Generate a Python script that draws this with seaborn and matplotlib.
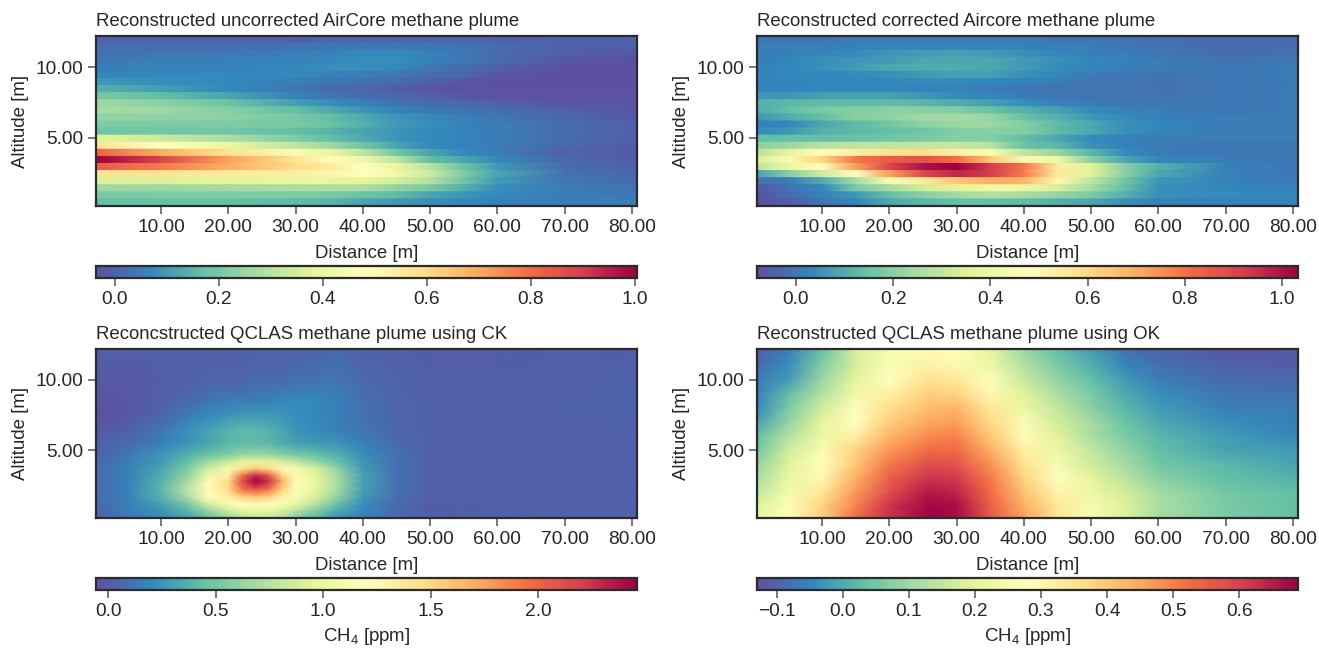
import matplotlib
matplotlib.use('Agg')
import matplotlib.pyplot as plt
import numpy as np
import seaborn as sns
from matplotlib.cm import ScalarMappable
from matplotlib.colors import Normalize
from matplotlib.ticker import FormatStrFormatter, FuncFormatter

# distance / altitude [m]
dist_min, dist_max = 0.34, 80.75
alt_min, alt_max = 0.2, 12.2

# uncorrected AirCore, 24 altitude layers top to bottom
dist_uncorr = [0.34, 10, 20, 30, 35, 40, 45, 50, 55, 60, 70, 80.75]
ch4_uncorr = [
    [0, 0, 0, 0, .01, .01, .01, .01, .01, 0, 0, 0],
    [.02, .02, .02, .03, .04, .04, .04, .04, .03, .02, 0, 0],
    [.03, .04, .04, .05, .06, .07, .07, .06, .04, .02, 0, -.02],
    [.04, .05, .06, .06, .07, .08, .08, .06, .04, .02, -.02, -.03],
    [.05, .06, .06, .07, .08, .08, .07, .04, .02, 0, -.03, -.04],
    [.07, .07, .07, .07, .06, .05, .04, .02, .01, -.02, -.04, -.04],
    [.10, .08, .07, .05, .04, .03, .02, 0, -.02, -.03, -.04, -.03],
    [.14, .11, .07, .04, .02, .01, -.01, -.02, -.03, -.03, -.03, -.03],
    [.20, .17, .12, .06, .04, .02, .01, 0, -.02, -.03, -.03, -.03],
    [.26, .23, .18, .11, .08, .06, .03, .02, .01, 0, -.02, -.02],
    [.27, .26, .22, .17, .13, .09, .06, .04, .03, .02, 0, -.02],
    [.24, .24, .23, .20, .17, .13, .09, .07, .05, .04, .01, -.02],
    [.21, .21, .21, .20, .18, .14, .10, .08, .06, .05, .02, 0],
    [.19, .19, .19, .17, .15, .12, .09, .07, .06, .05, .02, 0],
    [.38, .33, .28, .21, .17, .13, .09, .07, .06, .05, .02, 0],
    [.57, .48, .40, .31, .26, .19, .12, .07, .06, .05, .01, -.01],
    [.82, .69, .57, .45, .40, .31, .19, .12, .07, .05, 0, -.01],
    [1.0, .88, .71, .57, .50, .42, .31, .17, .12, .07, .01, -.01],
    [.83, .77, .69, .59, .55, .48, .40, .30, .18, .10, .02, 0],
    [.57, .57, .55, .54, .52, .48, .42, .33, .21, .12, .03, .01],
    [.36, .37, .38, .40, .40, .38, .35, .29, .19, .10, .04, .02],
    [.26, .26, .27, .28, .28, .28, .24, .20, .14, .08, .05, .03],
    [.20, .21, .21, .21, .20, .18, .16, .12, .09, .07, .05, .04],
    [.17, .17, .17, .16, .15, .12, .10, .08, .07, .06, .05, .05],
]

# corrected AirCore, 24 altitude layers top to bottom
dist_corr = [0.34, 5, 10, 15, 20, 25, 30, 35, 40, 45, 50, 55, 60, 70, 80.75]
ch4_corr = [
    [0, 0, 0, .01, .01, .01, .01, .01, .01, 0, 0, -.01, -.02, -.02, -.02],
    [.01, .01, .01, .02, .02, .02, .02, .02, .02, .01, .01, 0, -.01, -.02, -.02],
    [.01, .02, .03, .04, .06, .07, .08, .07, .05, .03, .02, .01, 0, -.02, -.01],
    [.01, .03, .05, .06, .07, .09, .09, .09, .07, .05, .03, .02, .01, -.01, 0],
    [.02, .03, .05, .07, .09, .10, .10, .09, .07, .04, .03, .02, .01, 0, .01],
    [.02, .03, .03, .04, .05, .07, .08, .08, .05, .03, .01, 0, -.01, 0, .01],
    [.02, .02, .03, .03, .03, .04, .04, .03, .02, .01, 0, 0, -.01, 0, .01],
    [.03, .03, .03, .03, .03, .02, .02, .01, 0, -.01, -.01, -.01, -.01, 0, .01],
    [.06, .06, .08, .08, .08, .06, .04, .03, .01, 0, -.01, -.01, -.01, 0, .01],
    [.11, .12, .13, .13, .13, .12, .10, .08, .05, .02, .01, 0, 0, 0, .01],
    [.10, .14, .18, .19, .20, .20, .19, .15, .11, .08, .04, .02, .01, 0, .01],
    [.06, .10, .14, .20, .21, .24, .25, .22, .15, .11, .06, .04, .02, .01, .01],
    [.02, .03, .09, .13, .16, .21, .23, .23, .19, .13, .09, .05, .03, .01, .01],
    [.04, .06, .11, .13, .14, .16, .19, .20, .19, .13, .09, .05, .03, .01, .01],
    [.14, .14, .14, .15, .16, .18, .19, .19, .14, .09, .04, .02, .01, .01, .01],
    [.21, .23, .28, .29, .29, .30, .31, .28, .15, .12, .05, .02, .01, 0, 0],
    [.28, .37, .48, .54, .58, .59, .53, .44, .29, .22, .12, .04, .01, 0, 0],
    [.34, .44, .61, .79, .85, .87, .81, .64, .51, .40, .20, .09, .03, .01, 0],
    [.29, .39, .48, .72, .90, 1.0, 1.03, .92, .79, .54, .36, .20, .11, .02, 0],
    [.08, .19, .32, .48, .72, .89, .96, .92, .78, .55, .36, .20, .09, .02, 0],
    [-.01, .01, .10, .25, .44, .55, .65, .70, .68, .50, .29, .16, .06, .02, .01],
    [-.06, -.01, .03, .18, .25, .33, .37, .41, .40, .34, .25, .14, .05, .03, .02],
    [-.07, -.02, .02, .06, .14, .20, .24, .27, .25, .22, .18, .11, .05, .04, .03],
    [-.08, -.05, 0, .03, .09, .12, .14, .14, .13, .11, .09, .05, .02, .02, .02],
]

# QCLAS with CK
dist_ck = [0.34, 5, 10, 14, 17, 20, 22, 24, 26, 28, 30, 33, 36, 40, 45, 50, 60, 70, 80.75]
alt_ck = [12.2, 10, 8.5, 7.5, 6.5, 5.5, 4.7, 4.2, 3.7, 3.2, 2.8, 2.2, 1.7, 1.2, .7, .2]
ch4_ck = [
    [.02, .02, .02, .02, .02, .02, .02, .02, .02, .02, .02, .04, .07, .02, .02, .01, .01, .02, .01],
    [-.01, -.01, .02, .02, .04, .04, .04, .07, .07, .07, .10, .10, .12, .07, .04, .02, .02, .02, .04],
    [-.03, -.01, .02, .07, .12, .15, .15, .17, .17, .20, .20, .20, .17, .10, .05, .03, .02, .03, .04],
    [-.06, -.01, .04, .15, .20, .25, .27, .27, .27, .25, .22, .20, .17, .10, .05, .03, .02, .03, .04],
    [-.01, .02, .12, .22, .30, .37, .40, .40, .37, .32, .25, .20, .17, .12, .05, .03, .02, .02, .03],
    [.02, .07, .17, .25, .32, .40, .42, .42, .40, .35, .30, .27, .25, .17, .07, .03, .02, .02, .03],
    [.04, .12, .25, .37, .47, .55, .62, .65, .62, .57, .52, .45, .37, .22, .10, .03, .02, .02, .03],
    [.07, .15, .27, .45, .65, .83, .95, 1.0, .95, .88, .78, .62, .47, .25, .10, .03, .02, .02, .03],
    [.07, .17, .32, .55, .85, 1.10, 1.40, 1.58, 1.46, 1.25, 1.10, .90, .62, .27, .10, .03, .02, .02, .03],
    [.07, .17, .35, .62, 1.03, 1.33, 1.91, 2.29, 2.09, 1.51, 1.13, .95, .70, .30, .10, .03, .02, .02, .03],
    [.07, .17, .37, .70, 1.15, 1.46, 2.09, 2.46, 2.26, 1.71, 1.20, 1.0, .72, .30, .10, .03, .02, .02, .03],
    [.07, .17, .40, .78, 1.25, 1.46, 1.91, 2.06, 1.91, 1.51, 1.15, .95, .70, .30, .10, .03, .02, .02, .03],
    [.07, .17, .37, .72, 1.20, 1.33, 1.51, 1.61, 1.51, 1.33, 1.13, .90, .62, .27, .10, .02, .02, .02, .03],
    [.07, .17, .30, .52, .88, 1.13, 1.20, 1.25, 1.23, 1.15, 1.0, .75, .47, .22, .07, .01, .02, .02, .03],
    [.04, .15, .25, .40, .62, .85, .95, 1.0, .98, .90, .75, .55, .35, .20, .07, .01, .02, .03, .03],
    [.04, .12, .20, .30, .45, .62, .75, .80, .80, .72, .57, .40, .25, .15, .07, .02, .03, .03, .03],
]

# QCLAS with OK
dist_ok = [0.34, 5, 10, 15, 20, 26, 30, 35, 40, 45, 50, 55, 60, 70, 80.75]
alt_ok = [12.2, 11, 10, 9, 8, 7, 6, 5, 4, 3, 2, 1, .2]
ch4_ok = [
    [-.11, -.06, .03, .18, .25, .29, .28, .20, .10, .03, -.02, -.08, -.10, -.12, -.11],
    [-.09, -.04, .07, .18, .26, .32, .30, .23, .13, .06, .01, -.05, -.08, -.10, -.11],
    [-.06, -.02, .10, .20, .28, .35, .34, .27, .16, .09, .03, -.02, -.06, -.09, -.09],
    [-.06, .03, .13, .23, .32, .39, .38, .30, .19, .12, .06, 0, -.04, -.07, -.08],
    [-.05, .06, .17, .27, .36, .42, .43, .34, .22, .15, .08, .02, -.02, -.06, -.06],
    [-.01, .09, .20, .28, .39, .45, .46, .37, .26, .17, .11, .04, 0, -.04, -.06],
    [.03, .13, .22, .32, .43, .49, .50, .40, .29, .19, .12, .06, .02, -.02, -.05],
    [.05, .17, .26, .38, .47, .53, .53, .44, .32, .22, .15, .09, .03, -.01, -.02],
    [.09, .19, .28, .40, .51, .58, .57, .48, .35, .25, .17, .11, .05, .02, -.01],
    [.12, .21, .30, .44, .55, .62, .61, .51, .38, .28, .20, .14, .08, .03, .01],
    [.15, .24, .34, .47, .58, .66, .64, .53, .41, .31, .22, .17, .11, .05, .03],
    [.19, .27, .38, .50, .62, .68, .67, .55, .44, .34, .25, .19, .12, .06, .03],
    [.21, .28, .39, .53, .62, .69, .67, .56, .46, .35, .26, .18, .11, .06, .03],
]

titles = ['Reconstructed uncorrected AirCore methane plume',
          'Reconstructed corrected Aircore methane plume',
          'Reconcstructed QCLAS methane plume using CK',
          'Reconstructed QCLAS methane plume using OK']
color_limits = [(-0.036, 1.004), (-0.08, 1.033), (-0.056, 2.46), (-0.13, 0.689)]
color_ticks = [[0, .2, .4, .6, .8, 1.0],
               [0, .2, .4, .6, .8, 1.0],
               [0, .5, 1.0, 1.5, 2.0],
               [-.1, 0, .1, .2, .3, .4, .5, .6]]

sns.set_theme(style='ticks')
plt.rcParams['font.family'] = ['Liberation Sans', 'DejaVu Sans']
plt.rcParams['mathtext.default'] = 'regular'
cmap = sns.color_palette('Spectral_r', as_cmap=True)

W, H = 1319, 648


def px_axes(fig, left, top, right, bottom):
    return fig.add_axes([left / W, 1 - bottom / H, (right - left) / W, (bottom - top) / H])


def style_ticks(ax):
    ax.tick_params(labelsize=13.8, length=6, width=1.1, color='#555555', labelcolor='#262626', pad=3)


def draw_layers(ax, dist, values, norm):
    # one row per layer so the layer steps stay visible
    edges = np.linspace(alt_max, alt_min, len(values) + 1)
    for i, row in enumerate(values):
        ax.pcolormesh(dist, [edges[i + 1], edges[i]], [row, row], shading='gouraud',
                      cmap=cmap, norm=norm)


fig = plt.figure(figsize=(W / 100, H / 100), dpi=100)
lefts = [96, 757]
tops = [(36, 206, 266, 278), (349, 518, 578, 590)]

for n in range(4):
    left = lefts[n % 2]
    top, bottom, cb_top, cb_bottom = tops[n // 2]
    ax = px_axes(fig, left, top, left + 541, bottom)
    norm = Normalize(*color_limits[n])
    if n == 0:
        draw_layers(ax, dist_uncorr, ch4_uncorr, norm)
    elif n == 1:
        draw_layers(ax, dist_corr, ch4_corr, norm)
    elif n == 2:
        ax.pcolormesh(dist_ck, alt_ck, ch4_ck, shading='gouraud', cmap=cmap, norm=norm)
    else:
        ax.pcolormesh(dist_ok, alt_ok, ch4_ok, shading='gouraud', cmap=cmap, norm=norm)
    ax.set_xlim(dist_min, dist_max)
    ax.set_ylim(alt_min, alt_max)
    ax.set_xticks(np.arange(10, 90, 10))
    ax.set_yticks([5, 10])
    ax.xaxis.set_major_formatter(FormatStrFormatter('%.2f'))
    ax.yaxis.set_major_formatter(FormatStrFormatter('%.2f'))
    ax.set_xlabel('Distance [m]', fontsize=13.4, labelpad=7)
    ax.set_ylabel('Altitude [m]', fontsize=13.4, labelpad=5)
    ax.set_title(titles[n], loc='left', fontsize=13.45, pad=7.5, color='#262626')
    for s in ax.spines.values():
        s.set_linewidth(1.6)
        s.set_color('#2b2b2b')
    style_ticks(ax)

    cax = px_axes(fig, left, cb_top, left + 541, cb_bottom)
    cb = fig.colorbar(ScalarMappable(norm=norm, cmap=cmap), cax=cax, orientation='horizontal')
    cb.set_ticks(color_ticks[n])
    cb.ax.xaxis.set_major_formatter(FuncFormatter(lambda v, p: f'{v:.1f}'.replace('-', '\u2212')))
    cb.outline.set_linewidth(1.6)
    cb.outline.set_edgecolor('#2b2b2b')
    style_ticks(cax)
    if n >= 2:
        cb.set_label('CH$_4$ [ppm]', fontsize=13.4, labelpad=5, color='#262626')

fig.savefig('out.png', dpi=100)
